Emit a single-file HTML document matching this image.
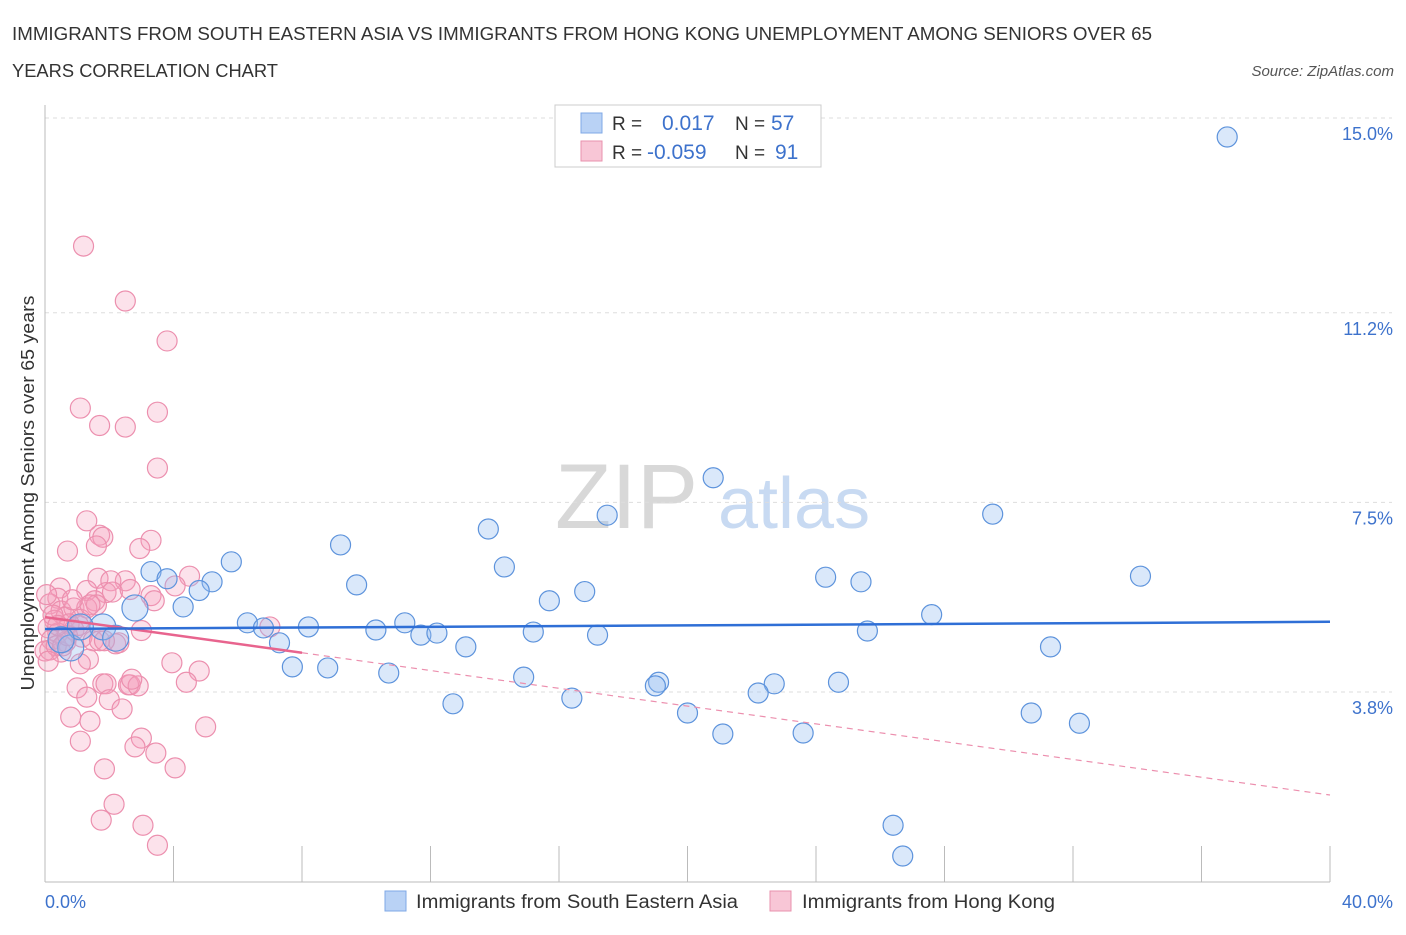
<!DOCTYPE html>
<html><head><meta charset="utf-8"><style>
body{margin:0;background:#fff;font-family:"Liberation Sans",sans-serif;}
svg text{font-family:"Liberation Sans",sans-serif;}
</style></head><body>
<svg width="1406" height="930" xmlns="http://www.w3.org/2000/svg">
<text x="12" y="40" font-size="18" fill="#333" textLength="1140" lengthAdjust="spacingAndGlyphs">IMMIGRANTS FROM SOUTH EASTERN ASIA VS IMMIGRANTS FROM HONG KONG UNEMPLOYMENT AMONG SENIORS OVER 65</text>
<text x="12" y="77" font-size="18" fill="#333" textLength="266" lengthAdjust="spacingAndGlyphs">YEARS CORRELATION CHART</text>
<text x="1394" y="76" font-size="15" fill="#555" font-style="italic" text-anchor="end">Source: ZipAtlas.com</text>
<g>
<text x="555" y="528" font-size="92" fill="#d8d8d8" font-family="Liberation Serif,serif">ZIP</text>
<text x="718" y="528" font-size="72" fill="#c8daf2">atlas</text>
</g>
<g id="grid"></g>
<line x1="45" y1="105" x2="45" y2="882" stroke="#bbb"/>
<line x1="45" y1="882" x2="1330" y2="882" stroke="#bbb"/>
<g id="xticks"></g>
<text x="45" y="908" font-size="18" fill="#3d72cc" text-anchor="start">0.0%</text>
<text x="1393" y="908" font-size="18" fill="#3d72cc" text-anchor="end">40.0%</text>
<text transform="translate(34,493) rotate(-90)" font-size="18" fill="#333" text-anchor="middle" textLength="395" lengthAdjust="spacingAndGlyphs">Unemployment Among Seniors over 65 years</text>
<g id="pts"></g>
<g id="lines"></g>
<g>
<rect x="555" y="105" width="266" height="62" fill="#fff" stroke="#ccc"/>
<rect x="581" y="113" width="21" height="20" fill="#b9d2f5" stroke="#7fa8e6"/>
<rect x="581" y="141" width="21" height="20" fill="#f8c6d6" stroke="#e891ad"/>
<text x="612" y="130" font-size="19" fill="#333">R =</text>
<text x="662" y="130" font-size="21" fill="#3d72cc">0.017</text>
<text x="735" y="130" font-size="19" fill="#333">N =</text>
<text x="771" y="130" font-size="21" fill="#3d72cc">57</text>
<text x="612" y="159" font-size="19" fill="#333">R =</text>
<text x="647" y="159" font-size="21" fill="#3d72cc">-0.059</text>
<text x="735" y="159" font-size="19" fill="#333">N =</text>
<text x="775" y="159" font-size="21" fill="#3d72cc">91</text>
</g>
<g>
<rect x="385" y="891" width="21" height="20" fill="#b9d2f5" stroke="#7fa8e6"/>
<text x="416" y="908" font-size="19" fill="#333" textLength="322" lengthAdjust="spacingAndGlyphs">Immigrants from South Eastern Asia</text>
<rect x="770" y="891" width="21" height="20" fill="#f8c6d6" stroke="#e891ad"/>
<text x="802" y="908" font-size="19" fill="#333" textLength="253" lengthAdjust="spacingAndGlyphs">Immigrants from Hong Kong</text>
</g>
</svg>
<script>
const yTicks=[15.0,11.2,7.5,3.8];
const yTickLabels=["15.0%","11.2%","7.5%","3.8%"];
const xTicks=[0,4,8,12,16,20,24,28,32,36,40];
const blueX=[36.8,20.8,17.5,29.5,13.8,9.2,14.3,5.8,3.3,3.8,5.2,4.8,9.7,24.3,25.4,34.1,16.8,15.7,4.3,2.8,27.6,6.3,11.2,8.2,6.8,10.3,1.8,11.7,12.2,15.2,17.2,25.6,2.2,7.3,13.1,31.3,0.8,7.7,8.8,10.7,14.9,19.1,19.0,22.7,24.7,22.2,16.4,12.7,20.0,30.7,32.2,21.1,23.6,26.4,26.7,1.1,0.5];
const blueY=[14.63,7.98,7.25,7.27,6.98,6.67,6.24,6.34,6.15,6.01,5.95,5.78,5.89,6.04,5.95,6.06,5.76,5.58,5.46,5.44,5.31,5.15,5.15,5.07,5.05,5.01,5.07,4.91,4.95,4.97,4.91,4.99,4.85,4.76,4.68,4.68,4.66,4.29,4.27,4.17,4.09,3.99,3.92,3.96,3.99,3.78,3.68,3.57,3.39,3.39,3.19,2.98,3.0,1.2,0.6,5.07,4.82];
const pinkX=[1.2,2.5,3.8,1.1,3.5,1.7,2.5,3.5,1.3,1.7,3.3,1.8,1.6,0.7,2.95,1.65,2.5,2.05,4.5,0.47,1.3,1.9,3.3,3.4,1.55,0.4,0.15,0.5,0.9,1.3,0.3,0.65,1.1,4.05,0.75,0.1,0.4,0.9,0.2,0.65,1.15,1.5,0.15,0.5,2.3,3.0,2.2,7.0,1.7,1.35,1.1,3.95,4.8,4.4,1.0,1.3,1.8,1.9,2.65,2.6,2.9,2.7,2.0,2.4,0.8,1.4,5.0,3.0,1.1,2.8,3.45,1.85,4.05,2.15,1.75,3.05,3.5,0.25,0.05,0.0,0.35,0.1,1.6,0.55,0.7,1.05,1.4,0.4,2.1,2.65,0.85,1.85];
const pinkY=[12.5,11.43,10.65,9.34,9.26,9.0,8.97,8.17,7.14,6.86,6.76,6.82,6.65,6.55,6.6,6.02,5.97,5.97,6.06,5.83,5.78,5.74,5.68,5.58,5.58,5.63,5.52,5.38,5.44,5.44,5.2,5.26,5.22,5.87,5.13,5.05,4.95,5.01,4.82,4.78,4.87,4.8,4.62,4.58,4.76,5.0,4.74,5.07,4.8,4.44,4.35,4.37,4.21,3.99,3.88,3.7,3.96,3.96,3.94,3.94,3.92,4.05,3.65,3.47,3.31,3.23,3.12,2.9,2.84,2.73,2.61,2.3,2.32,1.61,1.3,1.2,0.81,5.3,5.7,4.6,4.7,4.4,5.5,4.7,4.9,5.1,5.5,5.1,5.75,5.8,5.6,4.8];
const blueLine=[5.03,5.17];
const pinkLine=[5.26,1.79];
const NS="http://www.w3.org/2000/svg";
const X=v=>45+v*1285/40;
const Y=v=>118+(15-v)*51.25;
function mk(t,a,p){const e=document.createElementNS(NS,t);for(const k in a)e.setAttribute(k,a[k]);p.appendChild(e);return e;}
const grid=document.getElementById('grid');
yTicks.forEach((v,i)=>{
 const l=mk('line',{x1:45,x2:1392,y1:Y(v),y2:Y(v),stroke:'#ddd','stroke-dasharray':'4,4'},grid);
 
 
 const t=mk('text',{x:1393,y:Y(v)+22,'font-size':18,fill:'#3d72cc','text-anchor':'end'},grid);
 t.textContent=yTickLabels[i];
 
 
});
const xt=document.getElementById('xticks');
xTicks.forEach(v=>{
 const l=mk('line',{x1:X(v),x2:X(v),y1:846,y2:882,stroke:'#bbb'},xt);
 
 
});
const pts=document.getElementById('pts');
pinkX.forEach((x,i)=>{
 const c=mk('circle',{cx:X(x),cy:Y(pinkY[i]),r:10,fill:'rgba(244,160,188,0.3)',stroke:'#ec8fae','stroke-width':1.2},pts);
 
 
});
blueX.forEach((x,i)=>{
 const c=mk('circle',{cx:X(x),cy:Y(blueY[i]),r:x<3?13:10,fill:'rgba(150,188,240,0.35)',stroke:'#5d93dc','stroke-width':1.2},pts);
 
 
});
const ln=document.getElementById('lines');
const pAt=x=>pinkLine[0]+(pinkLine[1]-pinkLine[0])*x/40;
let l1=mk('line',{x1:X(8),y1:Y(pAt(8)),x2:X(40),y2:Y(pAt(40)),stroke:'#ec8fae','stroke-width':1.2,'stroke-dasharray':'6,5'},ln);


let l2=mk('line',{x1:X(0),y1:Y(pAt(0)),x2:X(8),y2:Y(pAt(8)),stroke:'#e8648e','stroke-width':2.5},ln);


let l3=mk('line',{x1:X(0),y1:Y(blueLine[0]),x2:X(40),y2:Y(blueLine[1]),stroke:'#2f6fd6','stroke-width':2.5},ln);


</script>
</body></html>
